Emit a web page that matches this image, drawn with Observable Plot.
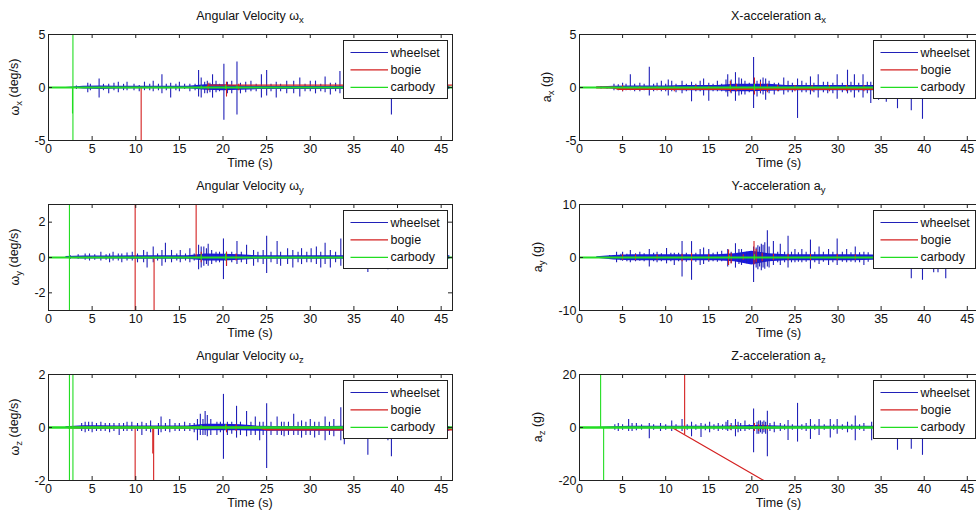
<!DOCTYPE html>
<html><head><meta charset="utf-8">
<script src="https://cdn.jsdelivr.net/npm/d3@7"></script>
<script src="https://cdn.jsdelivr.net/npm/@observablehq/plot@0.6"></script>
<style>
body{margin:0;background:#fff;overflow:hidden}
#fig{position:relative;width:976px;height:518px;overflow:hidden;background:#fff}
#fig svg{position:absolute;overflow:visible}
</style></head>
<body><div id="fig"></div>
<script>
// ---------------- shared ----------------
const XMAX = 46.3;
const xTicks = [0, 5, 10, 15, 20, 25, 30, 35, 40, 45];
const bandT = [0,2,4,6,8,10,12,14,16,18,20,22,24,26,28,30,32,34,36,38,40,42,44,46];
const seriesNames = ["wheelset", "bogie", "carbody"];
const colWheel = "#2020b8", colWheelBand = "#1818e0", colBogie = "#d42020", colCar = "#22dd22";

// ---------------- ωx ----------------
const wxTicks = [-5, 0, 5];
const wxWheelHi = [null,0,.12,.15,.12,.12,.12,.12,.12,.25,.25,.15,.12,.1,.1,.1,.1,.12,.12,.12,.12,.12,.12,.12];
const wxWheelLo = [null,0,-.15,-.2,-.15,-.12,-.12,-.12,-.12,-.25,-.3,-.25,-.2,-.18,-.18,-.18,-.18,-.18,-.18,-.18,-.18,-.18,-.18,-.18];
const wxWheelSpikes = [[3.2,-0.2,0.15],[4.5,-0.5,0.4],[4.8,-0.3,0.3],[5.8,-1.0,0.8],[6.3,-0.3,0.3],[6.9,-0.6,0.3],[7.5,-0.3,0.4],[8.0,-0.5,0.5],[8.6,-0.3,0.3],[9.0,-0.3,0.5],[9.8,-0.3,0.3],[10.4,-0.4,0.2],[11.0,-0.3,0.5],[11.6,-0.3,0.3],[12.0,-0.4,0.6],[12.6,-0.3,0.3],[13.0,-0.6,1.2],[13.5,-0.3,0.3],[14.0,-1.0,0.4],[14.6,-0.3,0.3],[15.0,-0.4,0.5],[15.6,-0.2,0.3],[16.2,-0.4,0.3],[16.8,-0.3,0.3],[17.2,-0.9,1.6],[17.5,-1.0,0.9],[17.9,-0.6,0.5],[18.2,-0.6,0.6],[18.5,-0.5,0.4],[18.8,-1.0,1.2],[19.2,-0.5,0.6],[19.6,-0.4,0.3],[20.1,-3.1,2.2],[20.5,-0.6,0.5],[21.0,-0.6,0.6],[21.6,-2.6,2.4],[22.0,-0.6,0.4],[22.6,-0.5,0.5],[23.2,-0.4,0.6],[23.8,-0.4,0.3],[24.4,-1.0,1.2],[25.0,-0.8,1.6],[25.5,-0.4,0.3],[26.1,-1.0,0.5],[26.6,-0.4,0.3],[27.3,-0.6,0.6],[28.1,-0.6,0.6],[28.8,-0.9,0.9],[29.4,-0.4,0.3],[30.0,-0.4,0.6],[30.6,-0.6,0.6],[31.2,-0.4,0.3],[31.7,-0.5,1.0],[32.3,-0.7,0.4],[32.9,-0.4,0.4],[33.4,-0.6,1.5],[34.0,-0.6,0.4],[34.6,-0.5,0.5],[35.2,-0.8,0.5],[36.0,-0.6,0.4],[36.8,-0.7,0.5],[37.5,-0.9,0.5],[38.3,-0.6,0.4],[39.3,-2.6,0.5],[40.2,-0.5,0.4],[41.0,-0.6,0.4],[42.0,-0.8,0.4],[43.0,-0.5,0.3],[44.0,-0.6,0.4],[45.0,-0.4,0.3]];
const wxBogieT = [2.5, 18.0, 18.4, 46.3];
const wxBogieV = [0, 0, 0.22, 0.22];
const wxBogieSpikes = [[10.62,-6,0],[18.3,-0.3,0.4],[20.4,-0.9,0.5],[21.8,-0.3,0.3]];
const wxCarT = [0, 46.3];
const wxCarV = [0, 0];
const wxCarSpikes = [[2.75,-2.5,0],[2.8,-6,6],[17.5,-0.15,0.15],[20.3,-0.2,0.2],[21.6,-0.15,0.15]];

// ---------------- ωy ----------------
const wyTicks = [-2, 0, 2];
const wyWheelHi = [null,.05,.08,.08,.08,.1,.1,.1,.1,.2,.18,.15,.1,.1,.1,.1,.1,.1,.1,.1,.1,.1,.1,.1];
const wyWheelLo = [null,-.05,-.08,-.08,-.08,-.1,-.1,-.1,-.1,-.2,-.2,-.15,-.1,-.1,-.1,-.1,-.1,-.1,-.1,-.1,-.1,-.1,-.1,-.1];
const wyWheelSpikes = [[2.5,-0.1,0.1],[3.4,-0.1,0.15],[4.2,-0.15,0.2],[4.7,-0.2,0.2],[5.3,-0.15,0.15],[6.0,-0.2,0.3],[6.6,-0.15,0.15],[7.0,-0.3,0.2],[7.4,-0.2,0.3],[8.0,-0.2,0.2],[8.4,-0.3,0.2],[9.0,-0.2,0.25],[9.6,-0.2,0.3],[10.2,-0.3,0.2],[10.9,-0.3,0.4],[11.3,-0.6,0.3],[12.0,-0.3,0.6],[12.5,-0.2,0.2],[13.0,-0.5,0.4],[13.4,-0.3,0.8],[14.1,-0.3,0.4],[14.7,-0.2,0.2],[15.1,-0.3,0.4],[15.7,-0.2,0.2],[16.2,-0.3,0.5],[16.7,-0.2,0.2],[17.2,-0.7,0.7],[17.5,-0.6,0.6],[17.8,-0.5,0.6],[18.1,-0.4,0.5],[18.3,-0.5,0.75],[18.7,-0.4,0.4],[19.2,-0.3,0.3],[19.6,-0.3,0.3],[20.05,-1.25,1.05],[20.4,-0.5,0.3],[21.0,-0.3,0.3],[21.6,-0.4,0.9],[22.1,-0.3,0.3],[22.7,-0.4,0.7],[23.5,-0.5,0.4],[24.0,-0.3,0.3],[24.6,-0.4,0.4],[25.0,-0.9,1.2],[25.5,-0.3,0.3],[26.2,-0.4,0.9],[26.6,-0.5,0.3],[27.4,-0.4,0.5],[28.0,-0.6,0.4],[28.6,-0.3,0.3],[29.0,-0.4,0.5],[29.6,-0.3,0.3],[30.1,-0.3,0.5],[30.7,-0.4,0.6],[31.2,-0.6,0.3],[31.7,-0.4,0.8],[32.3,-0.6,0.4],[32.9,-0.3,0.3],[33.5,-0.5,1.05],[34.0,-0.5,0.5],[34.6,-0.6,0.4],[35.4,-0.5,0.4],[36.0,-0.4,0.3],[36.6,-0.85,0.4],[37.4,-0.5,0.3],[38.0,-0.4,0.3],[38.9,-0.7,0.4],[39.6,-0.5,0.3],[40.4,-0.4,0.3],[41.4,-0.4,0.3],[42.5,-0.3,0.3],[43.6,-0.3,0.3]];
const wyBogieT = [2.2, 46.3];
const wyBogieV = [0, 0];
const wyBogieSpikes = [[9.93,-4,4],[12.1,-4,0],[16.92,0,4],[17.5,-0.3,0.3],[20.4,-0.5,0.3],[21.5,-0.2,0.2]];
const wyCarT = [0, 46.3];
const wyCarV = [0, 0];
const wyCarSpikes = [[2.4,-4,4],[17.5,-0.15,0.15],[20.3,-0.2,0.2]];

// ---------------- ωz ----------------
const wzTicks = [-2, 0, 2];
const wzWheelHi = [null,.03,.07,.07,.06,.06,.06,.06,.06,.12,.12,.1,.05,.04,.04,.04,.04,.05,.04,.04,.04,.04,.04,.04];
const wzWheelLo = [null,-.03,-.07,-.07,-.06,-.06,-.06,-.06,-.07,-.12,-.12,-.12,-.14,-.14,-.14,-.14,-.14,-.14,-.14,-.14,-.14,-.14,-.14,-.14];
const wzWheelSpikes = [[3.8,-0.15,0.15],[4.2,-0.2,0.2],[4.6,-0.15,0.2],[5.0,-0.2,0.2],[5.5,-0.15,0.15],[6.0,-0.15,0.2],[6.5,-0.15,0.15],[7.0,-0.2,0.15],[7.5,-0.15,0.15],[8.1,-0.3,0.15],[8.6,-0.15,0.15],[9.0,-0.15,0.2],[9.55,-0.15,0.2],[10.2,-0.15,0.15],[10.7,-0.3,0.2],[11.2,-0.15,0.15],[11.7,-0.2,0.25],[12.6,-0.3,0.15],[12.9,-0.2,0.4],[13.4,-0.15,0.15],[13.9,-0.2,0.3],[14.5,-0.15,0.15],[15.0,-0.15,0.15],[15.6,-0.15,0.2],[16.2,-0.15,0.15],[16.7,-0.2,0.15],[17.07,-0.5,0.3],[17.4,-0.3,0.5],[17.7,-0.3,0.3],[17.95,-0.3,0.6],[18.2,-0.35,0.45],[18.6,-0.3,0.3],[19.3,-0.3,0.2],[19.7,-0.2,0.2],[20.05,-1.2,1.25],[20.5,-0.3,0.2],[21.0,-0.25,0.2],[21.55,-0.4,0.8],[22.0,-0.3,0.2],[22.7,-0.35,0.6],[23.2,-0.3,0.2],[23.7,-0.3,0.4],[24.2,-0.5,0.2],[24.6,-0.3,0.2],[25.0,-1.55,0.9],[25.5,-0.3,0.2],[26.2,-0.3,0.4],[26.7,-0.3,0.2],[27.0,-0.35,0.2],[27.5,-0.3,0.2],[28.1,-0.3,0.5],[28.6,-0.3,0.2],[29.0,-0.4,0.25],[29.5,-0.3,0.2],[30.0,-0.3,0.3],[30.5,-0.4,0.2],[31.0,-0.3,0.2],[31.7,-0.5,0.4],[32.2,-0.3,0.2],[32.7,-0.35,0.3],[33.5,-0.5,0.75],[33.9,-0.65,0.3],[34.5,-0.35,0.2],[35.1,-0.45,0.2],[35.8,-0.3,0.2],[36.6,-1.05,0.2],[37.4,-0.3,0.2],[38.2,-0.35,0.2],[38.9,-0.5,0.2],[39.3,-1.1,0.2],[40.2,-0.3,0.2],[41.0,-0.4,0.2],[41.8,-0.3,0.2],[42.6,-0.35,0.2],[43.5,-0.3,0.2],[44.5,-0.3,0.2]];
const wzBogieT = [2.3, 24, 25, 46.3];
const wzBogieV = [0, 0, -0.08, -0.08];
const wzBogieSpikes = [[9.93,-3,0],[11.95,-1.0,0],[12.05,-3,0],[20.4,-0.2,0.1],[21.5,-0.15,0.1]];
const wzCarT = [0, 46.3];
const wzCarV = [0, 0];
const wzCarSpikes = [[2.4,-3,3],[2.8,-3,3],[17.5,-0.08,0.08],[20.3,-0.1,0.1]];

// ---------------- ax ----------------
const axTicks = [-5, 0, 5];
const axWheelHi = [null,.05,.12,.15,.15,.15,.2,.2,.2,.3,.3,.3,.2,.2,.2,.2,.2,.2,.2,.2,.2,.2,.2,.2];
const axWheelLo = [null,-.08,-.15,-.25,-.25,-.25,-.3,-.3,-.3,-.4,-.4,-.35,-.3,-.3,-.3,-.3,-.3,-.3,-.3,-.3,-.3,-.3,-.3,-.3];
const axWheelSpikes = [[2.5,-0.15,0.1],[3.2,-0.15,0.1],[4.0,-0.3,0.3],[4.5,-0.3,0.25],[5.0,-0.4,0.4],[5.4,-0.3,0.3],[5.9,-0.3,1.2],[6.4,-0.4,0.3],[7.0,-0.4,0.4],[7.5,-0.3,0.3],[8.1,-0.8,1.9],[8.6,-0.4,0.3],[9.0,-0.3,0.4],[9.5,-0.4,0.6],[10.0,-0.4,0.3],[10.3,-0.8,0.7],[10.7,-0.4,0.6],[11.2,-0.5,0.3],[11.9,-0.6,0.6],[12.4,-0.4,0.3],[13.0,-1.35,0.5],[13.5,-0.4,0.3],[14.0,-0.4,0.6],[14.4,-0.8,0.8],[15.0,-1.3,0.4],[15.5,-0.4,0.3],[16.0,-0.4,0.6],[16.5,-0.4,0.3],[17.0,-0.5,0.7],[17.2,-0.9,1.2],[17.6,-0.6,0.7],[18.1,-1.3,1.4],[18.5,-0.8,0.9],[18.8,-0.7,0.8],[19.2,-0.7,0.6],[19.7,-0.5,0.4],[20.2,-1.98,2.82],[20.6,-0.9,0.6],[21.0,-0.6,0.7],[21.3,-0.7,0.9],[21.6,-1.2,0.8],[22.0,-0.6,0.6],[22.6,-0.7,0.4],[23.1,-0.4,0.4],[23.7,-0.7,0.9],[24.2,-0.5,0.6],[24.7,-0.5,0.4],[25.3,-2.92,0.8],[25.8,-0.5,0.6],[26.3,-0.5,0.4],[26.8,-0.7,1.0],[27.2,-0.5,0.4],[27.7,-1.0,1.2],[28.3,-0.5,0.5],[28.8,-0.6,0.5],[29.4,-0.6,0.4],[29.9,-1.1,1.2],[30.5,-0.5,0.4],[31.1,-0.6,1.63],[31.5,-0.5,0.5],[31.9,-1.0,1.2],[32.4,-0.5,0.4],[32.9,-1.0,1.2],[33.4,-0.6,0.5],[33.8,-1.5,0.5],[34.7,-1.2,0.4],[35.6,-1.4,0.4],[36.2,-0.6,0.3],[36.9,-2.0,0.3],[37.6,-0.7,0.3],[38.5,-2.2,0.3],[39.2,-0.6,0.3],[39.8,-3.0,0.3],[40.5,-0.6,0.3],[41.1,-0.7,0.3],[41.8,-0.6,0.3],[42.5,-1.0,0.3],[43.4,-0.8,0.3],[44.3,-0.6,0.3],[45.2,-0.5,0.3]];
const axBogieT = [2.0, 4.0, 4.5, 46.3];
const axBogieV = [0, 0, -0.15, -0.15];
const axBogieSpikes = [[5.0,-0.4,0.2],[7.0,-0.3,0.1],[9.0,-0.3,0.1],[11.0,-0.4,0.1],[13.5,-0.3,0.2],[15.0,-0.3,0.1],[17.5,-0.5,0.6],[18.2,-0.4,0.3],[20.3,-0.7,0.9],[21.0,-0.4,0.5],[21.8,-0.5,0.3],[23.0,-0.4,0.2],[25.0,-0.4,0.2],[27.0,-0.4,0.2],[29.0,-0.4,0.2],[31.0,-0.4,0.2],[33.0,-0.4,0.2]];
const axCarT = [0, 46.3];
const axCarV = [0, 0];
const axCarSpikes = [[17.5,-0.2,0.2],[20.3,-0.3,0.3]];

// ---------------- ay ----------------
const ayTicks = [-10, 0, 10];
const ayWheelHi = [null,.15,.4,.5,.5,.5,.5,.5,.5,.7,1.2,.7,.5,.5,.5,.5,.5,.45,.45,.45,.45,.45,.45,.45];
const ayWheelLo = [null,-.15,-.45,-.6,-.6,-.6,-.6,-.6,-.6,-.8,-1.4,-.8,-.6,-.6,-.6,-.6,-.6,-.5,-.5,-.5,-.5,-.5,-.5,-.5];
const ayWheelSpikes = [[3.5,-0.4,0.4],[4.3,-1.0,1.0],[4.8,-0.6,0.6],[5.0,-0.7,1.0],[5.5,-0.8,0.6],[5.9,-1.0,1.3],[6.5,-0.8,0.7],[7.0,-0.7,1.0],[7.5,-0.8,0.7],[8.1,-1.8,1.5],[8.6,-0.8,0.8],[9.0,-1.0,1.0],[9.5,-0.8,0.7],[10.1,-1.2,1.7],[10.6,-0.8,0.8],[11.0,-1.5,0.8],[11.5,-0.8,0.8],[11.9,-3.7,3.0],[12.4,-0.9,0.8],[13.0,-4.3,3.0],[13.5,-0.9,0.8],[14.0,-1.5,1.5],[14.4,-1.3,1.8],[15.0,-0.9,1.5],[15.5,-0.8,0.8],[16.0,-0.9,1.0],[16.5,-0.8,1.2],[17.2,-1.8,1.5],[17.6,-1.2,1.0],[18.1,-2.0,2.6],[18.5,-1.3,1.5],[18.8,-1.5,1.5],[19.4,-1.2,1.0],[19.8,-0.9,0.8],[20.2,-4.7,2.0],[20.5,-2.0,1.8],[20.7,-2.3,2.2],[20.9,-1.8,2.0],[21.1,-2.5,2.5],[21.3,-2.0,2.3],[21.5,-2.2,2.8],[21.8,-1.8,5.06],[22.0,-2.0,2.0],[22.5,-1.5,3.0],[23.0,-1.0,1.0],[23.3,-1.5,2.5],[23.8,-1.0,1.0],[24.2,-2.0,3.99],[24.6,-1.0,1.0],[25.0,-1.0,1.5],[25.4,-0.9,0.9],[25.8,-1.0,1.5],[26.3,-0.9,1.0],[26.8,-2.2,3.29],[27.3,-1.0,1.0],[27.8,-1.3,2.0],[28.3,-0.9,1.0],[28.9,-1.5,1.5],[29.4,-1.0,1.0],[29.9,-1.5,3.5],[30.5,-0.9,1.0],[31.0,-1.0,1.5],[31.5,-0.9,0.9],[32.0,-1.0,2.0],[32.5,-1.0,0.9],[33.0,-1.5,1.0],[33.5,-0.9,0.9],[34.2,-1.0,1.5],[34.8,-1.0,0.8],[35.5,-1.0,0.8],[36.5,-1.5,0.8],[37.3,-1.0,0.8],[38.5,-4.0,0.8],[39.2,-1.0,0.8],[39.8,-4.3,0.8],[40.5,-1.0,0.8],[41.1,-2.9,0.8],[41.6,-2.9,0.8],[42.5,-4.0,0.8],[43.3,-1.0,0.8],[44.2,-1.2,0.8],[45.2,-1.0,0.8]];
const ayBogieT = [2.8, 46.3];
const ayBogieV = [0, 0];
const ayBogieSpikes = [[5,-0.5,0.5],[6.5,-0.6,0.5],[9,-0.5,0.5],[11.9,-0.8,0.6],[13,-0.8,0.8],[15,-0.6,0.6],[17.3,-1.5,1.4],[17.6,-1.2,0.8],[19,-0.5,0.5],[20.25,-1.4,3.0],[20.5,-1.0,1.5],[21.2,-0.8,0.8],[22.5,-0.6,0.6],[24.2,-0.6,0.6],[26.8,-0.6,0.6],[29.9,-0.6,0.6],[32,-0.5,0.5]];
const ayCarT = [0, 46.3];
const ayCarV = [0, 0];
const ayCarSpikes = [[20.3,-0.5,0.5],[17.4,-0.3,0.3]];

// ---------------- az ----------------
const azTicks = [-20, 0, 20];
const azWheelHi = [null,0,.3,.5,.5,.5,.5,.5,.5,.6,.8,.7,.5,.5,.5,.5,.5,.5,.5,.5,.5,.5,.5,.5];
const azWheelLo = [null,0,-.3,-.5,-.5,-.5,-.5,-.5,-.5,-.6,-.8,-.7,-.5,-.5,-.5,-.5,-.5,-.5,-.5,-.5,-.5,-.5,-.5,-.5];
const azWheelSpikes = [[4.1,-1.0,1.0],[4.5,-1.5,1.5],[5.0,-1.0,1.0],[5.7,-1.5,3.0],[6.1,-1.5,1.5],[6.6,-1.2,1.5],[7.2,-1.0,1.0],[8.1,-4.2,1.5],[8.6,-1.0,1.0],[9.4,-1.5,1.5],[10.0,-1.0,1.0],[10.7,-1.5,2.5],[11.2,-1.0,1.0],[11.9,-1.5,3.0],[12.5,-1.0,1.0],[13.0,-3.5,2.0],[13.5,-1.0,1.0],[14.1,-3.8,1.5],[14.6,-1.2,1.2],[15.1,-2.0,2.0],[15.6,-1.0,1.0],[16.1,-1.5,1.5],[16.6,-1.0,1.0],[17.0,-1.0,2.0],[17.2,-1.5,2.6],[17.6,-1.2,1.5],[18.1,-3.5,3.0],[18.4,-2.0,2.0],[18.7,-1.5,1.5],[19.2,-1.5,2.5],[19.7,-1.0,1.0],[20.2,-9.5,6.96],[20.6,-2.5,2.0],[20.8,-2.5,2.5],[21.0,-2.0,2.5],[21.2,-2.5,2.0],[21.4,-2.0,2.5],[21.6,-2.5,2.0],[21.8,-11.0,6.1],[22.1,-1.5,1.5],[22.6,-2.0,2.0],[23.3,-1.5,1.5],[23.8,-1.0,1.0],[24.2,-4.9,2.6],[24.7,-1.0,1.0],[25.3,-5.5,9.1],[25.8,-1.0,1.0],[26.3,-1.5,1.5],[26.8,-4.5,3.0],[27.3,-1.0,1.0],[27.8,-3.0,3.0],[28.4,-1.0,1.0],[29.1,-4.0,3.0],[29.5,-1.0,1.0],[29.9,-2.5,3.0],[30.5,-1.0,1.0],[31.1,-2.0,2.0],[31.6,-1.0,1.0],[32.0,-5.0,4.3],[32.5,-1.0,1.0],[33.0,-1.5,1.5],[33.9,-5.0,2.0],[34.7,-2.0,1.0],[35.6,-2.5,1.0],[36.3,-1.0,1.0],[36.9,-8.6,1.0],[37.6,-1.0,1.0],[38.5,-8.2,1.0],[39.2,-1.0,1.0],[39.8,-10.5,1.0],[40.5,-1.0,1.0],[41.1,-3.0,1.0],[41.8,-1.0,1.0],[42.5,-4.0,1.0],[43.4,-1.0,1.0],[44.3,-1.5,1.0],[45.2,-1.0,1.0]];
const azBogieT = [10.73, 22.5];
const azBogieV = [0, -22.1];
const azBogieSpikes = [[12.2,-2.76,25],[17.5,-1.0,0.8],[18.2,-0.8,0.8],[20.3,-1.5,1.5],[20.8,-1.5,1.0],[21.3,-1.0,1.0],[21.8,-1.2,0.8]];
const azCarT = [0, 46.3];
const azCarV = [0, 0];
const azCarSpikes = [[2.45,0,25],[2.8,-25,0]];

// ---------------- layout ----------------
const fig = document.getElementById("fig");
const FONT = '"Liberation Sans", Arial, Helvetica, sans-serif';
const MT = 34, MB = 30, PH = 170, FH = PH - MT - MB;

function pts(T, V) { return T.map((t, i) => ({t, v: V[i]})); }
function band(hi, lo) { return bandT.map((t, i) => ({t, hi: hi[i], lo: lo[i]})); }

function panel(o) {
  const W = o.ml + o.fw + 40;
  const marks = [];
  const ser = [
    {band: band(o.wheelHi, o.wheelLo), line: null, spikes: o.wheelSpikes, color: colWheel, lw: 1},
    {line: pts(o.bogieT, o.bogieV), spikes: o.bogieSpikes, color: colBogie, lw: o.bogieLw || 1.2},
    {line: pts(o.carT, o.carV), spikes: o.carSpikes, color: colCar, lw: o.carLw || 1.8}
  ];
  for (const s of ser) {
    if (s.band) marks.push(Plot.areaY(s.band, {x: "t", y1: "lo", y2: "hi", fill: colWheelBand, clip: true}));
    if (s.line) marks.push(Plot.line(s.line, {x: "t", y: "v", stroke: s.color, strokeWidth: s.lw, clip: true}));
    marks.push(Plot.ruleX(s.spikes, {x: d => d[0], y1: d => d[1], y2: d => d[2], stroke: s.color, strokeWidth: 1.1, clip: true}));
  }
  marks.push(
    Plot.tickX(xTicks, {x: d => d, insetTop: FH - 4, stroke: "#222"}),
    Plot.tickX(xTicks, {x: d => d, insetBottom: FH - 4, stroke: "#222"}),
    Plot.tickY(o.yTicks, {y: d => d, insetRight: o.fw - 4, stroke: "#222"}),
    Plot.tickY(o.yTicks, {y: d => d, insetLeft: o.fw - 4, stroke: "#222"}),
    Plot.axisX(xTicks, {tickSize: 0, tickPadding: 4, tickFormat: d => String(d), label: null}),
    Plot.axisY(o.yTicks, {tickSize: 0, tickPadding: 3, tickFormat: d => String(d), label: null}),
    Plot.frame({stroke: "#222"})
  );
  const svg = Plot.plot({
    width: W, height: PH,
    marginLeft: o.ml, marginRight: W - o.ml - o.fw, marginTop: MT, marginBottom: MB,
    x: {domain: [0, XMAX]},
    y: {domain: o.yDomain},
    style: {fontFamily: FONT, fontSize: "12.5px", color: "#111", background: "transparent", overflow: "visible"},
    marks
  });
  svg.style.left = o.left + "px";
  svg.style.top = o.top + "px";
  fig.appendChild(svg);

  const g = d3.select(svg).append("g").attr("font-family", FONT).attr("fill", "#111");
  const cx = o.ml + o.fw / 2;
  // title
  const tt = g.append("text").attr("x", cx).attr("y", MT - 14.5).attr("text-anchor", "middle").attr("font-size", 12.5);
  tt.append("tspan").text(o.title);
  tt.append("tspan").attr("dy", "0.35em").attr("font-size", 9.5).text(o.titleSub);
  // x label
  g.append("text").attr("x", cx).attr("y", MT + FH + 27).attr("text-anchor", "middle").attr("font-size", 12.5).text("Time (s)");
  // y label
  const yl = g.append("text").attr("transform", `translate(${o.ml - o.ylOff},${MT + FH / 2}) rotate(-90)`)
    .attr("text-anchor", "middle").attr("font-size", 12.5);
  yl.append("tspan").text(o.ylab);
  yl.append("tspan").attr("dy", "0.35em").attr("font-size", 9.5).text(o.ylabSub);
  yl.append("tspan").attr("dy", "-0.35em").text(o.ylabRest);
  // legend
  const lx = o.ml + o.fw - o.legGap - o.legW, ly = MT + 6;
  const lg = g.append("g").attr("text-anchor", "start");
  lg.append("rect").attr("x", lx + 0.5).attr("y", ly + 0.5).attr("width", o.legW).attr("height", 58)
    .attr("fill", "#fff").attr("stroke", "#222").attr("stroke-width", 1);
  const cols = [colWheel, colBogie, colCar];
  seriesNames.forEach((n, i) => {
    const yy = ly + 12 + i * 17.4;
    lg.append("line").attr("x1", lx + 7.5).attr("x2", lx + 45).attr("y1", yy + 0.5).attr("y2", yy + 0.5)
      .attr("stroke", cols[i]).attr("stroke-width", 1.2);
    lg.append("text").attr("x", lx + 47.5).attr("y", yy + 4.5).attr("text-anchor", "start").attr("font-size", 12.5).text(n);
  });
}

const L = {left: 0, ml: 48, fw: 404, legW: 104, legGap: 5, ylOff: 29};
const R = {left: 488, ml: 91, fw: 399, legW: 102, legGap: 3, ylOff: 37};

panel({...L, top: 0, yDomain: [-5, 5], yTicks: wxTicks, title: "Angular Velocity ω", titleSub: "x",
  ylab: "ω", ylabSub: "x", ylabRest: " (deg/s)",
  wheelHi: wxWheelHi, wheelLo: wxWheelLo, wheelSpikes: wxWheelSpikes,
  bogieT: wxBogieT, bogieV: wxBogieV, bogieSpikes: wxBogieSpikes, carT: wxCarT, carV: wxCarV, carSpikes: wxCarSpikes});
panel({...L, top: 170, yDomain: [-3, 3], yTicks: wyTicks, title: "Angular Velocity ω", titleSub: "y",
  ylab: "ω", ylabSub: "y", ylabRest: " (deg/s)",
  wheelHi: wyWheelHi, wheelLo: wyWheelLo, wheelSpikes: wyWheelSpikes,
  bogieT: wyBogieT, bogieV: wyBogieV, bogieSpikes: wyBogieSpikes, carT: wyCarT, carV: wyCarV, carSpikes: wyCarSpikes});
panel({...L, top: 340, yDomain: [-2, 2], yTicks: wzTicks, title: "Angular Velocity ω", titleSub: "z",
  ylab: "ω", ylabSub: "z", ylabRest: " (deg/s)", bogieLw: 2, carLw: 2.5,
  wheelHi: wzWheelHi, wheelLo: wzWheelLo, wheelSpikes: wzWheelSpikes,
  bogieT: wzBogieT, bogieV: wzBogieV, bogieSpikes: wzBogieSpikes, carT: wzCarT, carV: wzCarV, carSpikes: wzCarSpikes});
panel({...R, top: 0, ylOff: 28, yDomain: [-5, 5], yTicks: axTicks, title: "X-acceleration a", titleSub: "x",
  ylab: "a", ylabSub: "x", ylabRest: " (g)", bogieLw: 2,
  wheelHi: axWheelHi, wheelLo: axWheelLo, wheelSpikes: axWheelSpikes,
  bogieT: axBogieT, bogieV: axBogieV, bogieSpikes: axBogieSpikes, carT: axCarT, carV: axCarV, carSpikes: axCarSpikes});
panel({...R, top: 170, yDomain: [-10, 10], yTicks: ayTicks, title: "Y-acceleration a", titleSub: "y",
  ylab: "a", ylabSub: "y", ylabRest: " (g)",
  wheelHi: ayWheelHi, wheelLo: ayWheelLo, wheelSpikes: ayWheelSpikes,
  bogieT: ayBogieT, bogieV: ayBogieV, bogieSpikes: ayBogieSpikes, carT: ayCarT, carV: ayCarV, carSpikes: ayCarSpikes});
panel({...R, top: 340, yDomain: [-20, 20], yTicks: azTicks, title: "Z-acceleration a", titleSub: "z",
  ylab: "a", ylabSub: "z", ylabRest: " (g)", carLw: 2.5,
  wheelHi: azWheelHi, wheelLo: azWheelLo, wheelSpikes: azWheelSpikes,
  bogieT: azBogieT, bogieV: azBogieV, bogieSpikes: azBogieSpikes, carT: azCarT, carV: azCarV, carSpikes: azCarSpikes});
</script>
</body></html>
